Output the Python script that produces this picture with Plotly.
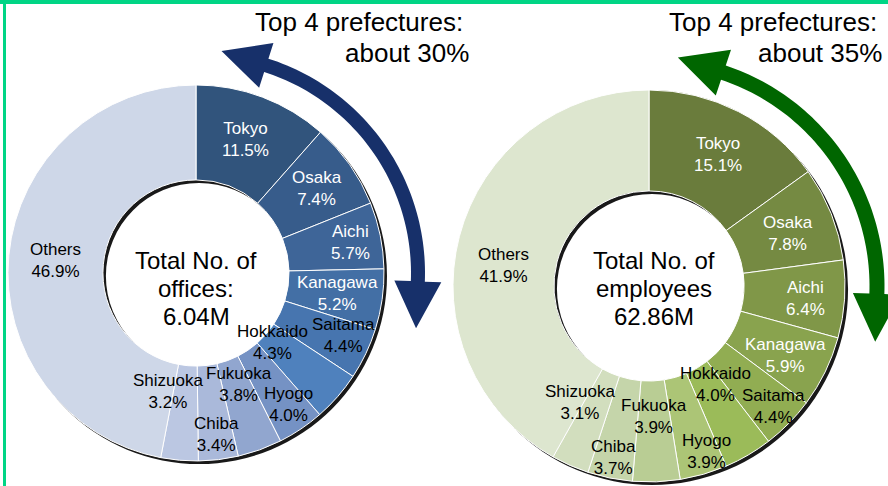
import numpy as np
import plotly.graph_objects as go

W, H = 888, 486
FONT = "Liberation Sans, Arial, sans-serif"

# ---- data -------------------------------------------------------------
prefectures = ["Tokyo", "Osaka", "Aichi", "Kanagawa", "Saitama", "Hokkaido",
               "Hyogo", "Fukuoka", "Chiba", "Shizuoka", "Others"]
office_share = [11.5, 7.4, 5.7, 5.2, 4.4, 4.3, 4.0, 3.8, 3.4, 3.2, 46.9]
employee_share = [15.1, 7.8, 6.4, 5.9, 4.4, 4.0, 3.9, 3.9, 3.7, 3.1, 41.9]
office_center_lines = ["Total No. of", "offices:", "6.04M"]
employee_center_lines = ["Total No. of", "employees", "62.86M"]
office_top4 = ["Top 4 prefectures:", "about 30%"]
employee_top4 = ["Top 4 prefectures:", "about 35%"]

# ---- styling ----------------------------------------------------------
office_colors = ["#31547C", "#375C8B", "#3E6598", "#436FA5", "#4775AF", "#4F81BD",
                 "#7592C4", "#91A6CF", "#AAB9DA", "#BBC7E2", "#CED7E8"]
employee_colors = ["#6A7C3C", "#758A42", "#809748", "#89A34E", "#91AD52", "#9BBB59",
                   "#ACC576", "#B9CD94", "#C5D5AA", "#D2DEBE", "#DDE6CF"]
label_colors = ["white"] * 4 + ["black"] * 7

# label block centres in pixels (x, y from top)
office_label_xy = [(245, 139), (317, 188), (350, 242), (337, 293), (343, 335),
                   (272, 342), (288, 404), (239, 384), (216, 434), (168, 391), (55, 260)]
employee_label_xy = [(718, 154), (788, 234), (805, 298), (785, 355), (773, 406),
                     (715, 384), (706, 451), (654, 416), (613, 457), (580, 402), (503, 265)]

# donut geometry in pixels: centre x, centre y, outer radius, hole fraction
LEFT = dict(cx=196, cy=273, r=188, hole=0.495)
RIGHT = dict(cx=649, cy=286, r=196, hole=0.485)
SHADOW_DX, SHADOW_DY = 3, 3


def px(x):
    return x / W


def py(y):
    return 1 - y / H


def domain(g, dx=0, dy=0):
    return dict(x=[px(g["cx"] - g["r"] + dx), px(g["cx"] + g["r"] + dx)],
                y=[py(g["cy"] + g["r"] + dy), py(g["cy"] - g["r"] + dy)])


fig = go.Figure()

for g, shares, colors in [(LEFT, office_share, office_colors),
                          (RIGHT, employee_share, employee_colors)]:
    # drop shadow ring
    fig.add_trace(go.Pie(values=[1], labels=[" "], sort=False, hole=g["hole"],
                         marker=dict(colors=["rgba(0,0,0,0.9)"], line=dict(width=0)),
                         textinfo="none", hoverinfo="skip", showlegend=False,
                         domain=domain(g, SHADOW_DX, SHADOW_DY)))
    fig.add_trace(go.Pie(values=shares, labels=prefectures, sort=False,
                         direction="clockwise", rotation=0, hole=g["hole"],
                         marker=dict(colors=colors, line=dict(color="white", width=1)),
                         textinfo="none", hoverinfo="label+percent", showlegend=False,
                         domain=domain(g)))

annotations = []


def text_at(x, y, text, size, color="black", xanchor="center"):
    annotations.append(dict(x=px(x), y=py(y), xref="paper", yref="paper", text=text,
                            showarrow=False, xanchor=xanchor, yanchor="middle",
                            font=dict(family=FONT, size=size, color=color)))


for shares, xy in [(office_share, office_label_xy), (employee_share, employee_label_xy)]:
    for name, v, (x, y), c in zip(prefectures, shares, xy, label_colors):
        text_at(x, y, f"{name}<br>{v:.1f}%", 17, c)

for cx, lines in [(196, office_center_lines), (654, employee_center_lines)]:
    for y, line in zip([260, 288, 316], lines):
        text_at(cx, y, line, 24)

for (x1, x2), lines in [((465, 471), office_top4), ((879, 884), employee_top4)]:
    text_at(x1, 22, lines[0], 26, xanchor="right")
    text_at(x2, 53, lines[1], 26, xanchor="right")


# ---- curved double-headed arrows -------------------------------------
def arc_arrow(cx, cy, R, width, t1, t2, head_len, head_w):
    def pt(r, t):
        return cx + r * np.sin(t), cy - r * np.cos(t)

    t1, t2 = np.radians(t1), np.radians(t2)
    ts = np.linspace(t1, t2, 60)
    outer = [pt(R + width / 2, t) for t in ts]
    inner = [pt(R - width / 2, t) for t in ts[::-1]]
    # head at the clockwise end
    mx, my = pt(R, t2)
    tx, ty = np.cos(t2), np.sin(t2)
    head2 = [pt(R + head_w / 2, t2), (mx + head_len * tx, my + head_len * ty),
             pt(R - head_w / 2, t2)]
    # head at the counter-clockwise end
    mx, my = pt(R, t1)
    tx, ty = -np.cos(t1), -np.sin(t1)
    head1 = [pt(R - head_w / 2, t1), (mx + head_len * tx, my + head_len * ty),
             pt(R + head_w / 2, t1)]
    pts = outer + head2 + inner + head1
    path = "M " + " L ".join(f"{px(x):.5f},{py(y):.5f}" for x, y in pts) + " Z"
    return path


shapes = [
    dict(type="path", xref="paper", yref="paper",
         path=arc_arrow(200, 273, 218, 14, 17.7, 92.2, 47, 47),
         fillcolor="#17306A", line=dict(width=0), layer="above"),
    dict(type="path", xref="paper", yref="paper",
         path=arc_arrow(652, 286, 225, 15, 18.5, 92.0, 48, 48),
         fillcolor="#006600", line=dict(width=0), layer="above"),
    # frame
    dict(type="rect", xref="paper", yref="paper", x0=0, x1=1, y0=py(4), y1=1,
         fillcolor="#00D585", line=dict(width=0), layer="above"),
    dict(type="rect", xref="paper", yref="paper", x0=px(3), x1=px(6), y0=0, y1=1,
         fillcolor="#00D585", line=dict(width=0), layer="above"),
]

fig.update_layout(width=W, height=H, margin=dict(l=0, r=0, t=0, b=0),
                  paper_bgcolor="white", plot_bgcolor="white",
                  annotations=annotations, shapes=shapes, showlegend=False)

fig.write_html("out.html")
